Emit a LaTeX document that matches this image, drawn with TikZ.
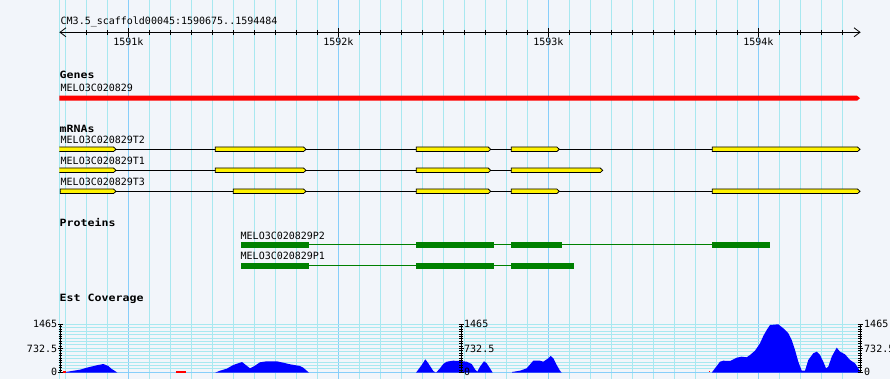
\documentclass[tikz,border=0pt]{standalone}
\usepackage{fontspec}
\usetikzlibrary{calc}
\newfontfamily\gdfont{DejaVu Sans Mono}
\newcommand\gdsmall{\gdfont\fontsize{10}{10}\selectfont}
\newcommand\gdtitle{\gdfont\bfseries\fontsize{10}{10}\selectfont}
\definecolor{bgc}{RGB}{242,245,250}
\definecolor{gridc}{RGB}{168,232,240}
\definecolor{majc}{RGB}{135,206,250}
\definecolor{protc}{RGB}{0,128,0}
\definecolor{covc}{RGB}{0,0,255}
\tikzset{
  lbl/.style={anchor=base west, inner sep=0pt, font=\gdsmall},
  ttl/.style={anchor=base west, inner sep=0pt, font=\gdtitle},
  axl/.style={inner sep=0pt, font=\gdsmall},
  exonbox/.style={fill=yellow, draw=black, line width=0.8pt},
  intron/.style={draw=black, line width=0.8pt},
  protbox/.style={fill=protc},
  protline/.style={draw=protc, line width=0.9pt},
  vgrid/.style={draw=gridc, line width=0.9pt},
  vmaj/.style={draw=majc, line width=0.9pt},
  rulerline/.style={draw=black, line width=0.8pt},
  covfill/.style={fill=covc},
}
\newcommand\exon[3]{\filldraw[exonbox] (#1,#3-2.3) -- (#2-2.5,#3-2.3) -- (#2,#3) -- (#2-2.5,#3+2.3) -- (#1,#3+2.3) -- cycle;}
\newcommand\pbox[3]{\fill[protbox] (#1,#3-2.9) rectangle (#2,#3+2.9);}
\newcommand\covaxis[1]{%
  \draw[black, line width=0.8pt] (#1,324.3) -- (#1,372.3);
  \foreach \i in {0,...,20} {\draw[black, line width=0.7pt] (#1-2,324.3+\i*2.4) -- (#1+1.5,324.3+\i*2.4);}
  \foreach \yy in {324.3,348.3,372.3} {\draw[black, line width=0.8pt] (#1-2.5,\yy) -- (#1+2.5,\yy);}
}
\begin{document}
\begin{tikzpicture}[x=1pt,y=-1pt]
\useasboundingbox (0,0) rectangle (890,379);
\fill[bgc] (0,0) rectangle (890,379);
% vertical grid
\draw[vgrid] (59.5,0) -- (59.5,379);
\foreach \k in {0,...,37} {\draw[vgrid] (65.3+21*\k,0) -- (65.3+21*\k,379);}
\foreach \k in {3,13,23,33} {\draw[vmaj] (65.3+21*\k,0) -- (65.3+21*\k,379);}
% ruler
\node[lbl] (reg) at (60.5,25) {CM3.5\_scaffold00045:1590675..1594484};
\coordinate (rl) at (60,32.3);
\coordinate (rr) at (860,32.3);
\draw[rulerline] (rl) -- (rr);
\draw[rulerline] ($(rl)+(6,-4.5)$) -- (rl) -- ($(rl)+(6,4.5)$);
\draw[rulerline] ($(rr)+(-6,-4.5)$) -- (rr) -- ($(rr)+(-6,4.5)$);
\foreach \k in {1,...,37} {\draw[rulerline] (65.3+21*\k,30) -- (65.3+21*\k,34.7);}
\foreach \k/\t in {3/1591k,13/1592k,23/1593k,33/1594k} {
  \draw[rulerline] (65.3+21*\k,28) -- (65.3+21*\k,36.7);
  \node[axl, anchor=base] (tk\k) at (65.3+21*\k,45.7) {\t};
}
% genes
\node[ttl] (genes) at (59.5,79) {\scalebox{1.16}[1]{Genes}};
\node[lbl] (g1) at (60.5,91.7) {MELO3C020829};
\fill[red] (59.3,95.7) -- (857,95.7) -- (860,98.2) -- (857,100.7) -- (59.3,100.7) -- cycle;
% mRNAs
\node[ttl] (mrnas) at (59.5,132.3) {\scalebox{1.16}[1]{mRNAs}};
\node[lbl] (t2) at (60.5,144) {MELO3C020829T2};
\node[lbl] (t1) at (60.5,165) {MELO3C020829T1};
\node[lbl] (t3) at (60.5,185.7) {MELO3C020829T3};
\draw[intron] (60,149.3) -- (858,149.3);
\draw[intron] (60,170.3) -- (600,170.3);
\draw[intron] (60,191.3) -- (858,191.3);
\begin{scope}
\clip (59.3,140) rectangle (200,200);
\exon{55}{116}{149.3}
\exon{55}{116}{170.3}
\end{scope}
\exon{215.3}{306}{149.3}
\exon{416.3}{490.7}{149.3}
\exon{511.3}{559.3}{149.3}
\exon{712.3}{860}{149.3}
\exon{215.3}{306}{170.3}
\exon{416.3}{490.7}{170.3}
\exon{511.3}{602.7}{170.3}
\exon{60.3}{116}{191.3}
\exon{233.3}{306}{191.3}
\exon{416.3}{490.7}{191.3}
\exon{511.3}{559.3}{191.3}
\exon{712.3}{860}{191.3}
% proteins
\node[ttl] (prot) at (59.5,226.7) {\scalebox{1.16}[1]{Proteins}};
\node[lbl] (p2) at (240.5,239) {MELO3C020829P2};
\node[lbl] (p1) at (240.5,259.7) {MELO3C020829P1};
\draw[protline] (241,244.7) -- (770,244.7);
\pbox{241}{309}{244.7}
\pbox{416}{494}{244.7}
\pbox{511}{562}{244.7}
\pbox{712}{770}{244.7}
\draw[protline] (241,265.7) -- (574,265.7);
\pbox{241}{309}{265.7}
\pbox{416}{494}{265.7}
\pbox{511}{574}{265.7}
% est coverage
\node[ttl] (est) at (59.5,301) {\scalebox{1.16}[1]{Est Coverage}};
\foreach \i in {0,...,13} {\draw[vgrid] (60,324.3+\i*48/14) -- (860,324.3+\i*48/14);}
\draw[vmaj] (60,372.6) -- (860,372.6);
\fill[covfill] (66,372.7) -- (66,372) -- (71.7,371) -- (80,369.7) -- (86.7,367.7) -- (96.7,365.3) -- (103.3,364) -- (108.3,366) -- (111.7,369) -- (115,371) -- (117.3,372.7) -- cycle;
\fill[covfill] (215,372.7) -- (220,370.7) -- (226.7,368.7) -- (233.3,365) -- (242,362) -- (246.7,365.7) -- (250,368.3) -- (253.3,366.7) -- (260,362.3) -- (266.7,361.3) -- (276.7,361.3) -- (283.3,362.7) -- (290,364.3) -- (300,366) -- (303.3,367.7) -- (306.7,370.7) -- (309,372.7) -- cycle;
\fill[covfill] (416,372.7) -- (421.7,365) -- (425.3,359.3) -- (428.3,363.3) -- (433.3,371) -- (436,372.7) -- (440,368.3) -- (443.3,364) -- (446.7,361.7) -- (453.3,360.7) -- (460,361) -- (466.7,361.7) -- (471.7,364) -- (475,369.3) -- (477.3,371.7) -- (480,366.7) -- (484,361.3) -- (486.7,363.3) -- (490,368.3) -- (492.7,372.7) -- cycle;
\fill[covfill] (512,372.7) -- (512,372) -- (520,370.7) -- (526.7,368.3) -- (533.3,360.7) -- (540,360.7) -- (543.3,361.7) -- (548.3,358.3) -- (550.7,356) -- (553.3,358.3) -- (556.7,365) -- (560,370.7) -- (561.7,372.7) -- cycle;
\fill[covfill] (711.7,372.7) -- (715,368.3) -- (720,361.7) -- (723.3,360.7) -- (730,361) -- (736.7,357.7) -- (741.7,356.7) -- (746.7,357.3) -- (750,355) -- (755,350.7) -- (760,343.3) -- (763.3,336) -- (766.7,330) -- (770,325) -- (778.3,324.3) -- (783.3,328.3) -- (788.3,333.3) -- (791.7,340) -- (795,350) -- (798.3,361.7) -- (801.7,370.7) -- (805,370.7) -- (808.3,360) -- (813.3,353.3) -- (816.7,351.7) -- (820,355) -- (823.3,361.7) -- (826,368.3) -- (828.3,366.7) -- (831.7,356.7) -- (836.7,347.7) -- (840,351.7) -- (845,354.3) -- (850,360) -- (855,363.3) -- (858.3,368.3) -- (860,372) -- (860,372.7) -- cycle;
\draw[red, line width=1.2pt] (63,372) -- (66,372);
\draw[red, line width=1.2pt] (176,372) -- (186,372);
\fill[red] (708.5,371.2) rectangle (709.8,372.4);
% axes
\covaxis{60.5}
\covaxis{461}
\covaxis{860}
\node[axl, anchor=base east] (l1) at (57.3,327.5) {1465};
\node[axl, anchor=base east] (l2) at (57.3,352) {732.5};
\node[axl, anchor=base east] (l3) at (57.3,375.8) {0};
\node[axl, anchor=base west] (m1) at (464,327.5) {1465};
\node[axl, anchor=base west] (m2) at (464,352) {732.5};
\node[axl, anchor=base west] (m3) at (464,375.8) {0};
\node[axl, anchor=base west] (r1) at (864,327.5) {1465};
\node[axl, anchor=base west] (r2) at (864,352) {732.5};
\node[axl, anchor=base west] (r3) at (864,375.8) {0};
\end{tikzpicture}
\end{document}
